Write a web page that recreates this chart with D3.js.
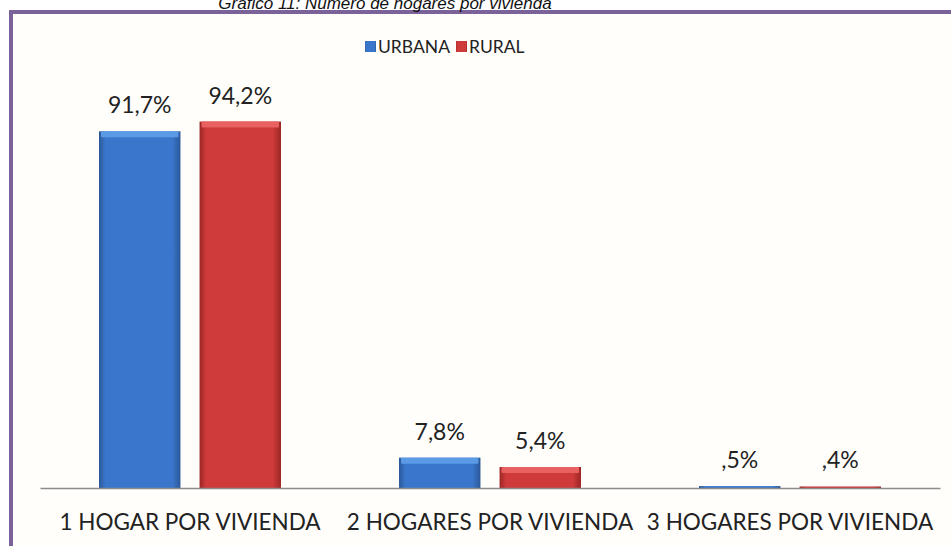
<!DOCTYPE html>
<html><head><meta charset="utf-8">
<script src="https://cdn.jsdelivr.net/npm/d3@7"></script>
<style>html,body{margin:0;padding:0;background:#fff;}svg{display:block;}</style>
</head><body>
<svg id="c" width="951" height="546"></svg>
<script>
const categories = ["1 HOGAR POR VIVIENDA", "2 HOGARES POR VIVIENDA", "3 HOGARES POR VIVIENDA"];
const seriesNames = ["URBANA", "RURAL"];
const urbana = [91.7, 7.8, 0.5];
const rural = [94.2, 5.4, 0.4];
const urbanaLabels = ["91,7%", "7,8%", ",5%"];
const ruralLabels = ["94,2%", "5,4%", ",4%"];
const title = "Gráfico 11: Número de hogares por vivienda";

const svg = d3.select("#c");
const W = 951, H = 546;
const defs = svg.append("defs");
function grad(id, edge, mid) {
  const g = defs.append("linearGradient").attr("id", id).attr("x1", "0").attr("x2", "1").attr("y1", "0").attr("y2", "0");
  g.append("stop").attr("offset", "0").attr("stop-color", edge);
  g.append("stop").attr("offset", "0.08").attr("stop-color", mid);
  g.append("stop").attr("offset", "0.9").attr("stop-color", mid);
  g.append("stop").attr("offset", "1").attr("stop-color", edge);
}
grad("gU", "#2b5797", "#3a77cc");
grad("gR", "#9c2626", "#cf3a3a");

// panel background and border
svg.append("rect").attr("x", 11).attr("y", 12).attr("width", W - 11).attr("height", H - 12).attr("fill", "#fffefb");
svg.append("line").attr("x1", 9).attr("x2", W).attr("y1", 12).attr("y2", 12).attr("stroke", "#7b6399").attr("stroke-width", 4);
svg.append("line").attr("x1", 11).attr("x2", 11).attr("y1", 10).attr("y2", H).attr("stroke", "#7b6399").attr("stroke-width", 4);

// title
svg.append("text").attr("x", 385).attr("y", 9).attr("text-anchor", "middle")
  .attr("font-family", "Liberation Sans, Arial, sans-serif").attr("font-style", "italic")
  .attr("font-size", 17).attr("fill", "#111").text(title);

const x0 = d3.scaleBand().domain(categories).range([40, 940]).paddingInner(0).paddingOuter(0);
const x1 = d3.scaleBand().domain(seriesNames).range([59, 241]).paddingInner(0.19).paddingOuter(0);
const y = d3.scaleLinear().domain([0, 100]).range([488, 99]);

const font = "Lato, 'Open Sans', sans-serif";
const data = [];
categories.forEach((c, i) => {
  data.push({c, s: "URBANA", v: urbana[i], lab: urbanaLabels[i], fill: "url(#gU)", top: "#5b9be6"});
  data.push({c, s: "RURAL", v: rural[i], lab: ruralLabels[i], fill: "url(#gR)", top: "#e86060"});
});

const g = svg.append("g");
data.forEach(d => {
  const bx = x0(d.c) + x1(d.s), bw = x1.bandwidth();
  const by = y(d.v), bh = y(0) - y(d.v);
  g.append("rect").attr("x", bx).attr("y", by).attr("width", bw).attr("height", bh).attr("fill", d.fill);
  if (bh > 4) {
    g.append("rect").attr("x", bx + 2).attr("y", by).attr("width", bw - 4).attr("height", Math.min(6, bh)).attr("fill", d.top).attr("rx", 1);
  }
  g.append("text").attr("x", bx + bw / 2).attr("y", by - 18).attr("text-anchor", "middle")
    .attr("font-family", font).attr("font-size", 23).attr("fill", "#222").text(d.lab);
});

// axis
const ax = svg.append("g").attr("transform", "translate(0,488)")
  .call(d3.axisBottom(x0).tickSize(0).tickPadding(26));
ax.select(".domain").attr("stroke", "#8c8c8c").attr("stroke-width", 1.3);
ax.selectAll("text").attr("font-family", font).attr("font-size", 22.5).attr("fill", "#222").attr("dy", "0").attr("dominant-baseline", "alphabetic").attr("y", 42);

// legend
const leg = svg.append("g");
const legItems = [{n: "URBANA", f: "url(#gU)", x: 365}, {n: "RURAL", f: "url(#gR)", x: 456}];
legItems.forEach(l => {
  leg.append("rect").attr("x", l.x).attr("y", 41).attr("width", 11).attr("height", 11).attr("fill", l.f);
  leg.append("text").attr("x", l.x + 13).attr("y", 53).attr("font-family", font).attr("font-size", 17.5).attr("fill", "#222").text(l.n);
});
</script>
</body></html>
